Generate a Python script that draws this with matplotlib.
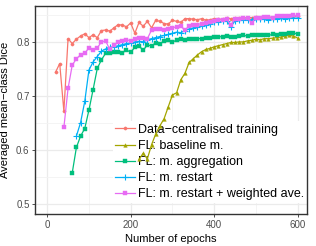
import numpy as np
import matplotlib
matplotlib.use("Agg")
import matplotlib.pyplot as plt

plt.rcParams['font.family'] = ['Liberation Sans', 'DejaVu Sans']

# epochs and values
ep_central = list(range(20, 601, 10))
dice_central = [0.744, 0.760, 0.672, 0.806, 0.797, 0.805, 0.811, 0.815, 0.808, 0.813,
                0.808, 0.821, 0.822, 0.820, 0.826, 0.832, 0.831, 0.828, 0.835, 0.816,
                0.836, 0.829, 0.838, 0.826, 0.840, 0.838, 0.834, 0.833, 0.840, 0.838,
                0.836, 0.843, 0.843, 0.842, 0.841, 0.843, 0.840, 0.841, 0.843, 0.842,
                0.842, 0.844, 0.843, 0.844, 0.845, 0.844, 0.845, 0.845, 0.846, 0.845,
                0.846, 0.846, 0.845, 0.846, 0.847, 0.846, 0.847, 0.847, 0.848]

ep_baseline = list(range(220, 601, 10))
dice_baseline = [0.583, 0.594, 0.584, 0.610, 0.630, 0.645, 0.658, 0.680, 0.702, 0.706,
                 0.730, 0.742, 0.762, 0.769, 0.776, 0.782, 0.786, 0.788, 0.791, 0.793,
                 0.795, 0.797, 0.799, 0.799, 0.800, 0.800, 0.802, 0.803, 0.805, 0.804,
                 0.806, 0.806, 0.807, 0.808, 0.809, 0.811, 0.812, 0.811, 0.807]

ep_aggr = list(range(60, 601, 10))
dice_aggr = [0.558, 0.605, 0.626, 0.640, 0.674, 0.712, 0.751, 0.767, 0.779, 0.779,
             0.781, 0.782, 0.780, 0.785, 0.781, 0.790, 0.792, 0.785, 0.794, 0.793,
             0.798, 0.797, 0.801, 0.804, 0.799, 0.804, 0.805, 0.804, 0.805, 0.805,
             0.806, 0.806, 0.807, 0.808, 0.810, 0.809, 0.810, 0.811, 0.809, 0.810,
             0.811, 0.812, 0.811, 0.813, 0.812, 0.813, 0.813, 0.812, 0.814, 0.813,
             0.815, 0.815, 0.816, 0.817, 0.814]

ep_restart = list(range(70, 601, 10))
dice_restart = [0.626, 0.651, 0.690, 0.748, 0.763, 0.773, 0.783, 0.787, 0.790, 0.791,
                0.793, 0.795, 0.797, 0.798, 0.800, 0.801, 0.800, 0.804, 0.806, 0.808,
                0.810, 0.812, 0.814, 0.816, 0.818, 0.817, 0.821, 0.824, 0.826, 0.828,
                0.830, 0.832, 0.834, 0.836, 0.837, 0.838, 0.839, 0.828, 0.839, 0.840,
                0.840, 0.841, 0.841, 0.842, 0.842, 0.842, 0.841, 0.843, 0.843, 0.844,
                0.843, 0.844, 0.844, 0.844]

ep_weighted = list(range(40, 601, 10))
dice_weighted = [0.642, 0.714, 0.757, 0.769, 0.776, 0.779, 0.789, 0.785, 0.789, 0.800,
                 0.802, 0.786, 0.794, 0.799, 0.801, 0.804, 0.802, 0.806, 0.808, 0.807,
                 0.806, 0.822, 0.823, 0.823, 0.822, 0.823, 0.826, 0.828, 0.829, 0.822,
                 0.829, 0.832, 0.832, 0.834, 0.835, 0.837, 0.838, 0.840, 0.841, 0.842,
                 0.832, 0.842, 0.843, 0.844, 0.844, 0.835, 0.845, 0.845, 0.846, 0.846,
                 0.845, 0.847, 0.847, 0.848, 0.848, 0.849, 0.849]

series = [
    (ep_central, dice_central, "Data\u2212centralised training", "#F8766D", "o", 2.3),
    (ep_baseline, dice_baseline, "FL: baseline m.", "#A3A500", "^", 2.6),
    (ep_aggr, dice_aggr, "FL: m. aggregation", "#00BF7D", "s", 2.3),
    (ep_restart, dice_restart, "FL: m. restart", "#00B0F6", "+", 4.0),
    (ep_weighted, dice_weighted, "FL: m. restart + weighted ave.", "#E76BF3", "s", 3.2),
]

fig = plt.figure(figsize=(3.16, 2.46), dpi=100)
ax = fig.add_axes([0.111, 0.130, 0.860, 0.847])

for x, y, lab, col, mk, ms in series:
    ax.plot(x, y, color=col, marker=mk, markersize=ms, linewidth=0.9,
            markeredgewidth=0.8 if mk == "+" else 0.3, label=lab, zorder=3)

ax.set_xlim(-29, 622)
ax.set_ylim(0.482, 0.867)
ax.set_xticks([0, 200, 400, 600])
ax.set_yticks([0.5, 0.6, 0.7, 0.8])
ax.set_xticks([100, 300, 500], minor=True)
ax.set_yticks([0.55, 0.65, 0.75, 0.85], minor=True)
ax.grid(which="major", color="#EBEBEB", linewidth=0.9)
ax.grid(which="minor", color="#F3F3F3", linewidth=0.6)
ax.set_axisbelow(True)
for s in ax.spines.values():
    s.set_color("#333333")
    s.set_linewidth(1.0)
ax.tick_params(which="major", length=2.5, width=0.6, color="#333333",
               labelsize=7, labelcolor="#4D4D4D", pad=1.5)
ax.tick_params(which="minor", length=0)

ax.set_xlabel("Number of epochs", fontsize=8, labelpad=3)
ax.set_ylabel("Averaged mean\u2212class Dice", fontsize=8, labelpad=4)

leg = ax.legend(loc="upper left", bbox_to_anchor=(0.285, 0.445), fontsize=9,
                frameon=True, framealpha=1.0, edgecolor="none", fancybox=False,
                handlelength=1.6, handletextpad=0.25, labelspacing=0.33,
                borderpad=0.2, borderaxespad=0)
leg.set_zorder(2)

fig.savefig("out.png", dpi=100)
